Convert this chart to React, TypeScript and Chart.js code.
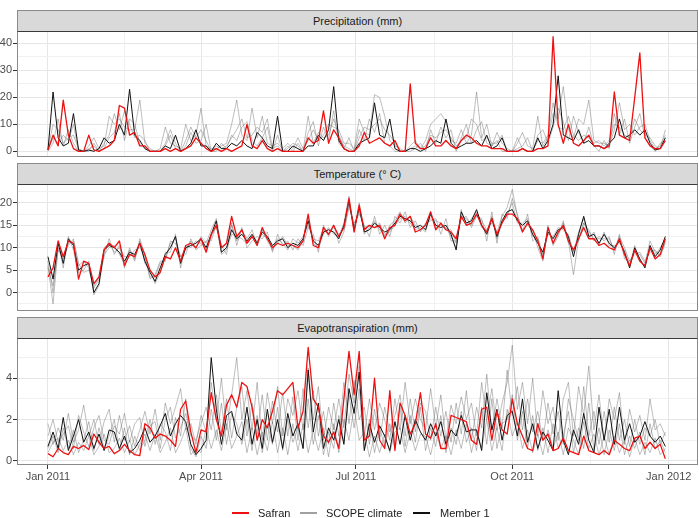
import React, { useEffect, useRef } from "react";
import { Chart, registerables } from "chart.js";

Chart.register(...registerables);

const WIDTH = 699;
const HEIGHT = 518;
const PLOT_LEFT = 17;
const PLOT_RIGHT = 698;
const X_AXIS_HEIGHT = 30;
const FONT = '"Liberation Sans", Arial, Helvetica, sans-serif';

// Daily series are sampled every third day, starting on 1 January 2011.
const STEP_DAYS = 3;

// Date axis, in days since 1 January 2011
const dayTicks = [0, 90, 181, 273, 365];
const dayTickLabels = ["Jan 2011", "Apr 2011", "Jul 2011", "Oct 2011", "Jan 2012"];
const dayMinorTicks = [45, 135.5, 227, 319];
const dayMin = -18.2;
const dayMax = 382.2;

const precipTicks = [0, 10, 20, 30, 40];
const precipMinorTicks = [5, 15, 25, 35];
const tempTicks = [0, 5, 10, 15, 20];
const tempMinorTicks = [-2.5, 2.5, 7.5, 12.5, 17.5, 22.5];
const etTicks = [0, 2, 4];
const etMinorTicks = [1, 3, 5];

const seriesNames = ["Safran", "SCOPE climate", "Member 1"];

// Precipitation (mm)
const precipSafran = [
  0.5, 6, 2, 19, 6, 1, 0, 0, 6, 0.5,
  0, 1, 2, 4, 17, 16, 6, 7, 2, 2,
  0, 0, 0, 1, 0, 1, 0, 1, 2, 5,
  3, 1, 0, 1, 0, 1, 0, 1, 2, 10,
  2, 1, 4, 1, 0, 1, 0, 0, 0, 0,
  0, 5, 3, 4, 15, 3, 8, 5, 1, 0,
  0, 2, 7, 3, 4, 5, 3, 2, 4, 0,
  0, 25, 3, 1, 1, 5, 2, 2, 4, 2,
  1, 4, 6, 5, 3, 2, 2, 1, 1, 1,
  0, 0, 0, 1, 0, 0, 1, 1, 2, 42.5,
  10, 3, 10, 3, 2, 4, 6, 2, 2, 1,
  2, 22, 6, 5, 4, 20, 36.5, 5, 2, 1,
  1, 4,
];
const precipMember1 = [
  0.5, 22, 5, 2, 3, 14, 0.5, 0, 0.5, 0,
  1, 5, 3, 4, 10, 6, 23, 6, 4, 1,
  0, 0, 0, 2, 1, 6, 0, 1, 3, 8,
  2, 2, 0, 3, 1, 1, 3, 2, 4, 2,
  1, 7, 5, 2, 1, 13, 0, 0, 2, 1,
  0, 2, 2, 6, 4, 8, 24, 4, 1, 0,
  0, 3, 4, 5, 18, 6, 5, 12, 1, 0,
  0, 1, 1, 0, 1, 2, 4, 3, 12, 3,
  1, 2, 3, 3, 4, 2, 6, 1, 2, 5,
  0, 0, 0, 1, 0, 0, 5, 1, 4, 10,
  28, 6, 5, 4, 8, 3, 4, 2, 2, 1,
  3, 5, 12, 5, 6, 8, 6, 8, 3, 0.5,
  1, 5,
];
const precipScopeA = [
  1, 10, 8, 3, 5, 6, 1, 0, 2, 5,
  1, 2, 13, 10, 12, 9, 8, 8, 19, 3,
  1, 0, 1, 9, 3, 2, 1, 10, 4, 6,
  16, 2, 1, 1, 2, 3, 10, 19, 6, 4,
  16, 5, 13, 3, 2, 3, 1, 3, 1, 5,
  1, 4, 8, 4, 6, 10, 9, 8, 3, 3,
  1, 12, 7, 6, 21, 20, 13, 4, 2, 1,
  0, 2, 4, 1, 4, 10, 12, 14, 11, 4,
  3, 8, 3, 6, 22, 5, 10, 2, 7, 3,
  1, 0, 3, 7, 2, 1, 13, 2, 5, 14,
  12, 24, 8, 5, 12, 10, 19, 4, 3, 3,
  2, 8, 18, 8, 10, 6, 9, 10, 4, 1,
  2, 6,
];
const precipScopeB = [
  0.5, 5, 3, 6, 4, 10, 0, 0, 1, 2,
  0, 3, 6, 14, 8, 15, 10, 5, 6, 4,
  0, 0, 0, 3, 8, 3, 0, 4, 9, 5,
  8, 4, 0, 2, 1, 2, 5, 8, 12, 5,
  6, 9, 7, 12, 1, 2, 0, 1, 3, 2,
  0, 13, 3, 7, 5, 6, 12, 6, 2, 1,
  0, 5, 9, 8, 10, 12, 8, 6, 3, 0,
  0, 1, 2, 1, 2, 6, 5, 7, 8, 5,
  2, 4, 5, 12, 10, 4, 5, 3, 3, 6,
  0, 0, 1, 2, 5, 0, 4, 3, 6, 18,
  9, 8, 13, 6, 4, 6, 5, 3, 4, 2,
  4, 10, 9, 6, 5, 12, 8, 6, 5, 2,
  1, 8,
];
const precipScopeC = [
  0, 3, 12, 2, 8, 3, 0, 0, 0, 3,
  0, 1, 5, 7, 14, 4, 12, 10, 3, 1,
  0, 0, 0, 2, 6, 1, 0, 2, 7, 3,
  4, 10, 0, 0, 3, 1, 6, 4, 9, 11,
  4, 2, 5, 9, 0, 6, 0, 2, 0, 3,
  0, 7, 11, 2, 9, 4, 15, 3, 1, 5,
  0, 8, 4, 12, 7, 14, 3, 2, 0, 0,
  0, 0, 1, 3, 0, 8, 3, 9, 5, 8,
  0, 5, 10, 3, 8, 11, 3, 2, 4, 0,
  0, 0, 5, 1, 0, 0, 6, 8, 3, 9,
  16, 11, 4, 13, 7, 3, 9, 2, 0, 4,
  1, 14, 6, 12, 3, 9, 14, 5, 2, 0,
  3, 4,
];

// Temperature (°C)
const tempSafran = [
  3.5, 5.5, 11.5, 8, 11.5, 11, 3, 7, 6.5, 2,
  3.5, 9.5, 11, 10, 11.5, 6, 8.5, 8, 11, 8.5,
  5, 3.5, 4.5, 8, 7.5, 10, 7, 10.5, 11, 10,
  12, 9, 13, 15, 10, 11, 17, 12.5, 14, 11,
  12.5, 10.5, 14.5, 12, 10, 11, 10.5, 11, 10.5, 10,
  11.5, 17.5, 10.5, 10, 14.5, 13, 15, 12.5, 14.5, 21,
  13.5, 19.5, 14, 15, 14.5, 15, 12, 14.5, 15, 17.5,
  16, 17, 13.5, 14, 15, 18, 14, 15.5, 14, 13.5,
  12, 17, 15, 15.5, 17.5, 15, 13.5, 16.5, 13, 15.5,
  17.5, 17.5, 16.5, 13.5, 15.5, 14, 11.5, 7.5, 14.5, 11,
  13.5, 15, 11.5, 9.5, 12, 14.5, 12, 12, 10.5, 11,
  10, 9.5, 12, 8.5, 6, 9.5, 7, 6, 10, 7.5,
  8.5, 12,
];
const tempMember1 = [
  8, 3, 11, 6.5, 12, 10.5, 5, 6, 6.5, 0,
  2, 9.5, 10.5, 10, 9, 7, 9, 8.5, 11, 7,
  4.5, 2.5, 5.5, 8.5, 10, 12.5, 6.5, 10, 10.5, 11,
  12, 10, 13, 16, 9, 10, 14, 12, 13, 11.5,
  13, 11, 13.5, 12.5, 10.5, 11.5, 12, 10, 11, 10.5,
  12, 16, 11.5, 10.5, 13.5, 14, 13.5, 12, 15, 20.5,
  14, 19, 13.5, 14, 15.5, 14.5, 13.5, 14, 15.5, 17,
  16.5, 16, 14.5, 15, 14, 17.5, 15, 14.5, 15, 13,
  9.5, 18, 15.5, 16, 18.5, 15, 13, 16.5, 12.5, 16,
  18, 18.5, 16, 15, 16, 13, 11, 9, 13.5, 12,
  14, 14.5, 12.5, 8, 13, 17, 12.5, 13, 11, 13,
  11, 10, 11.5, 9, 5.5, 10, 7.5, 5.5, 10.5, 8,
  9.5, 12.5,
];
const tempScopeA = [
  6, -2.5, 10, 8, 11, 11.5, 6, 7, 5.5, 1,
  3, 10, 11, 9, 10, 8, 8, 9.5, 10, 8,
  3.5, 3.5, 6.5, 7.5, 11, 12, 8, 9.5, 11.5, 10,
  12.5, 11, 14, 16.5, 10, 11, 15, 11.5, 14, 12,
  14, 10.5, 14, 11.5, 9.5, 12, 11, 9.5, 12, 11,
  12.5, 15, 12, 11.5, 14, 13, 14.5, 13, 14, 19.5,
  15, 18, 14.5, 15, 14.5, 15.5, 12.5, 15, 16, 18,
  15.5, 17, 15, 14, 15, 16.5, 16, 15.5, 14, 14,
  11, 17, 16.5, 15, 17.5, 16, 14, 15.5, 13.5, 17,
  19, 23, 17, 14, 15, 14, 10, 7, 14.5, 11,
  13, 15.5, 11.5, 4, 12, 15.5, 13.5, 12, 12, 12,
  12, 9.5, 12.5, 10, 7, 9, 8.5, 6.5, 11.5, 9,
  8.5, 11.5,
];
const tempScopeB = [
  7, 0, 11.5, 5.5, 12.5, 9.5, 4.5, 5, 7, -0.5,
  1.5, 8.5, 10, 10.5, 8.5, 6.5, 9.5, 7.5, 11.5, 6.5,
  5, 2, 4.5, 9, 9, 13, 5.5, 10.5, 10, 11.5,
  11, 9.5, 12.5, 15, 8.5, 9.5, 13, 12.5, 12, 11,
  12.5, 11.5, 13, 12, 10, 11, 12.5, 10.5, 10.5, 9.5,
  11.5, 17, 11, 10, 13, 14.5, 13, 12.5, 15.5, 21.5,
  13.5, 20, 13, 14.5, 16, 14, 13, 13.5, 15, 16.5,
  17, 15.5, 14, 14.5, 13.5, 18, 14.5, 15, 14.5, 12.5,
  10, 18.5, 15, 16.5, 18, 14.5, 13.5, 17, 12, 15.5,
  17.5, 20, 15.5, 15.5, 16.5, 12.5, 12, 8.5, 13, 12.5,
  14.5, 14, 13, 9, 13.5, 16.5, 12, 13.5, 10.5, 13.5,
  10.5, 10.5, 11, 9.5, 6, 10.5, 7, 6, 10, 8.5,
  10, 12,
];
const tempScopeC = [
  5.5, 1.5, 9.5, 7.5, 10.5, 12, 6.5, 4.5, 5, 1.5,
  3.5, 8, 12, 8.5, 10.5, 5.5, 10, 7, 12, 8.5,
  3, 4, 7, 7, 11.5, 11, 8, 8.5, 12, 9.5,
  10.5, 11.5, 11.5, 15, 10.5, 8.5, 15.5, 10.5, 14.5, 10,
  11.5, 12.5, 12, 13.5, 9, 13, 10.5, 11.5, 9.5, 12,
  10.5, 14.5, 13, 9, 15, 12.5, 15, 11, 13.5, 19,
  15.5, 17.5, 15, 12.5, 17, 13, 15, 12.5, 17, 15.5,
  18, 14.5, 16, 13.5, 15.5, 16, 16.5, 13, 16.5, 11.5,
  11.5, 16.5, 17, 14.5, 17, 16.5, 11.5, 18, 11, 17.5,
  16.5, 21, 17.5, 13.5, 17.5, 11.5, 12.5, 7.5, 15, 10.5,
  12.5, 16, 11, 9.5, 11.5, 15.5, 14, 11.5, 12.5, 11.5,
  12.5, 8.5, 13, 7.5, 7, 8.5, 9, 7, 9, 9.5,
  8, 11,
];

// Evapotranspiration (mm)
const etSafran = [
  0.35, 0.2, 0.6, 0.4, 0.3, 0.7, 0.6, 0.75, 0.55, 1.3,
  0.9, 0.6, 0.7, 0.35, 0.5, 0.8, 0.5, 0.3, 0.25, 1.8,
  1.6, 1.1, 1.3, 1.2, 1.0, 0.7, 2.5, 2.9, 1.4, 0.4,
  1.5, 1.4, 3.3, 2.0, 1.2, 2.7, 3.2, 2.6, 3.8, 3.6,
  2.6, 1.0, 2.0, 1.6, 2.4, 3.4, 3.2, 3.5, 3.8, 1.6,
  2.4, 5.5, 3.0, 2.6, 1.2, 0.9, 1.4, 0.6, 3.0, 5.3,
  3.2, 5.3, 1.0, 1.2, 4.0, 1.0, 0.6, 3.4, 0.5, 2.8,
  2.2, 1.3, 1.8, 3.3, 1.3, 1.1, 1.8, 0.6, 0.6, 2.2,
  2.1, 2.0, 1.9, 1.0, 0.8, 2.5, 2.6, 1.0, 2.4, 1.5,
  1.3, 3.0, 1.8, 1.2, 0.6, 0.5, 1.8, 1.0, 1.3, 0.5,
  0.6, 1.1, 0.5, 0.4, 0.3, 1.2, 0.5, 0.4, 0.3, 0.5,
  0.3, 1.0, 0.8, 0.6, 0.5, 1.1, 1.2, 0.6, 0.9, 0.6,
  0.8, 0.1,
];
const etMember1 = [
  0.7, 1.4, 0.6, 2.1, 0.5, 1.2, 2.0, 0.9, 1.4, 0.6,
  1.3, 0.5, 1.5, 1.4, 0.6, 1.2, 0.4, 0.6, 1.0, 1.6,
  0.9, 1.2, 1.7, 2.3, 1.2, 1.8, 2.2, 1.9, 0.8, 0.3,
  0.6, 1.0, 5.0, 2.5, 0.8, 2.2, 2.4, 1.3, 1.0, 2.6,
  0.8, 2.0, 0.6, 2.5, 0.9, 2.0, 0.6, 2.3, 1.2, 1.8,
  0.6, 4.4, 1.4, 2.8, 0.6, 1.6, 1.0, 2.0, 0.8, 3.5,
  2.3, 4.3, 0.5, 1.8, 0.9, 1.7, 1.2, 0.5, 1.9, 0.8,
  2.2, 1.0, 2.0, 1.4, 1.0, 1.8, 1.2, 1.9, 0.8, 1.5,
  1.2, 2.2, 1.4, 1.5, 1.5, 0.5, 3.3, 1.5, 2.5, 1.0,
  2.2, 2.4, 1.2, 3.0, 0.9, 1.8, 0.6, 1.4, 1.0, 0.5,
  3.4, 1.0, 0.3, 1.5, 0.8, 2.3, 1.0, 0.4, 2.6, 1.0,
  2.5, 0.8, 2.6, 1.0, 1.8, 0.9, 1.2, 1.9, 1.2, 0.9,
  1.2, 0.7,
];
const etScopeA = [
  1.8, 0.8, 1.6, 1.0, 2.3, 0.9, 1.5, 2.7, 1.2, 2.0,
  0.8, 1.9, 2.5, 0.9, 2.2, 1.0, 1.7, 0.7, 1.5, 2.4,
  1.3, 2.5, 1.0, 2.8, 1.8, 2.6, 3.5, 1.5, 1.8, 0.8,
  2.2, 1.4, 3.8, 2.0, 4.0, 1.5, 3.2, 5.0, 2.0, 3.4,
  1.5, 3.8, 1.0, 3.3, 1.8, 3.6, 1.2, 3.0, 2.2, 3.4,
  1.5, 4.5, 2.0, 3.6, 1.0, 2.6, 1.5, 3.0, 1.6, 4.2,
  2.8, 4.6, 1.2, 3.0, 1.5, 2.8, 2.0, 1.0, 3.0, 1.5,
  3.8, 1.8, 3.0, 2.0, 1.5, 3.5, 1.6, 3.2, 1.0, 2.7,
  1.8, 3.1, 2.0, 2.8, 1.2, 3.8, 2.0, 3.5, 1.5, 2.8,
  3.8, 5.6, 2.5, 3.8, 1.8, 4.0, 1.2, 3.4, 1.8, 2.6,
  1.0, 3.0, 3.8, 1.2, 3.6, 2.2, 4.6, 1.5, 3.2, 1.0,
  3.0, 2.0, 3.3, 0.8, 2.5, 1.4, 2.2, 1.0, 3.0, 1.5,
  1.8, 1.2,
];
const etScopeB = [
  0.6, 1.2, 0.4, 1.6, 0.6, 1.5, 0.4, 1.0, 1.9, 0.5,
  1.6, 0.6, 1.2, 2.0, 0.5, 1.6, 0.3, 1.2, 0.5, 1.0,
  2.0, 0.8, 1.8, 1.4, 0.5, 2.1, 1.2, 3.0, 0.6, 0.2,
  1.2, 0.6, 2.5, 1.0, 2.8, 0.8, 2.3, 1.8, 0.8, 2.0,
  0.5, 2.2, 0.4, 1.8, 0.8, 2.6, 0.5, 2.0, 0.9, 1.6,
  0.6, 3.0, 0.8, 2.2, 0.3, 1.4, 0.6, 2.2, 0.9, 3.2,
  1.6, 3.5, 0.5, 2.0, 0.4, 1.6, 0.7, 1.8, 0.6, 2.6,
  0.7, 2.2, 0.9, 2.6, 0.5, 1.6, 0.7, 2.2, 0.4, 1.6,
  0.8, 2.4, 0.9, 1.6, 0.5, 2.6, 0.8, 3.0, 0.6, 1.8,
  2.0, 3.2, 1.0, 2.4, 0.6, 2.2, 0.5, 1.6, 0.4, 1.8,
  0.6, 1.2, 2.4, 0.4, 1.6, 0.6, 2.8, 0.5, 1.6, 0.3,
  1.5, 0.5, 1.8, 0.3, 1.2, 0.6, 1.4, 0.3, 1.8, 0.6,
  1.0, 0.4,
];
const etScopeC = [
  1.2, 2.0, 0.9, 1.3, 1.7, 0.6, 2.2, 1.4, 0.7, 1.6,
  2.2, 1.0, 0.8, 1.7, 1.3, 2.3, 0.9, 1.8, 2.1, 0.7,
  1.7, 1.9, 0.6, 2.0, 2.6, 1.1, 1.6, 2.3, 1.2, 1.0,
  1.8, 2.6, 1.5, 3.2, 1.4, 3.0, 1.1, 2.6, 3.6, 1.2,
  2.8, 1.3, 3.2, 1.0, 2.9, 1.4, 3.3, 1.2, 3.1, 1.0,
  3.5, 1.6, 3.4, 1.2, 2.4, 0.8, 2.8, 1.2, 3.8, 1.8,
  3.9, 2.0, 2.6, 0.8, 2.5, 1.0, 2.6, 1.4, 2.2, 3.2,
  1.2, 3.0, 1.4, 2.8, 2.4, 1.0, 2.6, 1.2, 2.4, 0.9,
  2.8, 1.3, 3.4, 1.0, 2.6, 1.6, 4.2, 1.4, 3.0, 1.6,
  4.4, 2.2, 3.6, 1.5, 3.0, 1.4, 2.4, 1.0, 2.8, 1.3,
  2.4, 0.8, 3.0, 2.0, 1.0, 3.6, 1.2, 2.4, 0.8, 2.4,
  0.9, 2.6, 1.0, 2.0, 0.7, 2.0, 0.8, 1.6, 1.2, 2.0,
  0.8, 1.4,
];
const etScopeD = [
  0.4, 0.9, 1.1, 0.5, 1.0, 0.3, 0.9, 0.5, 1.2, 0.3,
  0.7, 1.3, 0.4, 0.6, 1.1, 0.4, 1.0, 0.3, 0.8, 1.3,
  0.5, 1.3, 0.4, 0.9, 1.6, 0.4, 0.9, 1.6, 0.3, 0.6,
  0.4, 1.6, 0.6, 1.5, 0.5, 1.8, 0.6, 1.2, 1.9, 0.4,
  1.6, 0.3, 1.4, 0.5, 1.9, 0.4, 1.6, 0.3, 1.8, 0.5,
  1.8, 0.4, 1.5, 0.5, 1.6, 0.2, 1.8, 0.4, 2.0, 1.0,
  2.6, 1.0, 1.4, 0.2, 1.2, 0.4, 1.3, 0.4, 1.4, 1.6,
  0.4, 1.4, 0.5, 1.3, 1.2, 0.3, 1.4, 0.6, 1.2, 0.3,
  1.5, 0.6, 1.8, 0.4, 1.5, 0.6, 2.0, 0.5, 1.6, 0.5,
  2.5, 1.2, 1.9, 0.6, 1.5, 0.4, 1.3, 0.3, 1.5, 0.6,
  1.4, 0.3, 1.6, 1.0, 0.3, 1.9, 0.6, 1.3, 0.3, 1.2,
  0.3, 1.2, 0.4, 1.0, 0.2, 1.1, 0.3, 0.9, 0.4, 1.1,
  0.3, 0.6,
];

const SERIES_COLORS = {
  safran: "#ee1111",
  scope: "rgba(95,95,95,0.45)",
  scopeKey: "#a0a0a0",
  member: "#111111",
};

type Panel = {
  title: string;
  safran: number[];
  member: number[];
  scope: number[][];
  min: number;
  max: number;
  ticks: number[];
  minor: number[];
  stripTop: number;
  plotTop: number;
  plotBottom: number;
  showDates: boolean;
};

const panels: Panel[] = [
  {
    title: "Precipitation (mm)",
    safran: precipSafran,
    member: precipMember1,
    scope: [precipScopeA, precipScopeB, precipScopeC],
    min: -2.1,
    max: 44.6,
    ticks: precipTicks,
    minor: precipMinorTicks,
    stripTop: 10,
    plotTop: 31,
    plotBottom: 157,
    showDates: false,
  },
  {
    title: "Temperature (° C)",
    safran: tempSafran,
    member: tempMember1,
    scope: [tempScopeA, tempScopeB, tempScopeC],
    min: -4.1,
    max: 24.2,
    ticks: tempTicks,
    minor: tempMinorTicks,
    stripTop: 163,
    plotTop: 184,
    plotBottom: 311,
    showDates: false,
  },
  {
    title: "Evapotranspiration (mm)",
    safran: etSafran,
    member: etMember1,
    scope: [etScopeA, etScopeB, etScopeC, etScopeD],
    min: -0.2,
    max: 5.95,
    ticks: etTicks,
    minor: etMinorTicks,
    stripTop: 317,
    plotTop: 338,
    plotBottom: 465,
    showDates: true,
  },
];

const toPoints = (values: number[]) => values.map((v, i) => ({ x: i * STEP_DAYS, y: v }));

const panelFrame = {
  id: "panelFrame",
  afterDatasetsDraw(chart: any) {
    const { ctx, chartArea: a } = chart;
    ctx.save();
    ctx.strokeStyle = "#8a8a8a";
    ctx.lineWidth = 1;
    ctx.strokeRect(a.left + 0.5, a.top + 0.5, a.right - a.left - 1, a.bottom - a.top - 1);
    ctx.restore();
  },
};

function lineSet(label: string, values: number[], color: string, width: number) {
  return {
    label,
    data: toPoints(values),
    borderColor: color,
    backgroundColor: color,
    borderWidth: width,
    borderJoinStyle: "round" as const,
    pointRadius: 0,
    pointHoverRadius: 0,
    tension: 0,
    fill: false,
  };
}

function buildConfig(panel: Panel): any {
  // The first dataset is painted last, so Safran sits on top.
  const datasets = [
    lineSet(seriesNames[0], panel.safran, SERIES_COLORS.safran, 1.3),
    lineSet(seriesNames[2], panel.member, SERIES_COLORS.member, 1),
    ...panel.scope.map((s) => lineSet(seriesNames[1], s, SERIES_COLORS.scope, 0.9)),
  ];
  const xHeight = panel.showDates ? X_AXIS_HEIGHT : 0;
  const allX = [...dayTicks, ...dayMinorTicks].sort((a, b) => a - b);
  const allY = [...panel.ticks, ...panel.minor].sort((a, b) => a - b);
  return {
    type: "line",
    data: { datasets },
    plugins: [panelFrame],
    options: {
      animation: false,
      responsive: false,
      events: [],
      layout: {
        padding: {
          left: 0,
          right: WIDTH - PLOT_RIGHT,
          top: panel.plotTop,
          bottom: HEIGHT - panel.plotBottom - xHeight,
        },
      },
      plugins: {
        legend: { display: false },
        tooltip: { enabled: false },
        title: { display: false },
      },
      scales: {
        x: {
          type: "linear",
          min: dayMin,
          max: dayMax,
          bounds: "data",
          afterBuildTicks: (s: any) => {
            s.ticks = allX.map((v) => ({ value: v }));
          },
          afterFit: (s: any) => {
            s.height = xHeight;
          },
          border: { display: false },
          grid: {
            drawTicks: panel.showDates,
            tickLength: 4,
            tickWidth: 1,
            lineWidth: 1,
            color: (c: any) => (dayTicks.includes(c.tick?.value) ? "#e6e6e6" : "#f1f1f1"),
            tickColor: (c: any) => (dayTicks.includes(c.tick?.value) ? "#333333" : "rgba(0,0,0,0)"),
          },
          ticks: {
            display: panel.showDates,
            autoSkip: false,
            maxRotation: 0,
            minRotation: 0,
            padding: 1,
            color: "#4d4d4d",
            font: { family: FONT, size: 11 },
            callback: (v: number) => {
              const k = dayTicks.indexOf(v);
              return k >= 0 ? dayTickLabels[k] : "";
            },
          },
        },
        y: {
          type: "linear",
          min: panel.min,
          max: panel.max,
          bounds: "data",
          afterBuildTicks: (s: any) => {
            s.ticks = allY.map((v) => ({ value: v }));
          },
          afterFit: (s: any) => {
            s.width = PLOT_LEFT;
          },
          border: { display: false },
          grid: {
            drawTicks: true,
            tickLength: 4,
            tickWidth: 1,
            lineWidth: 1,
            color: (c: any) => (panel.ticks.includes(c.tick?.value) ? "#e6e6e6" : "#f1f1f1"),
            tickColor: (c: any) => (panel.ticks.includes(c.tick?.value) ? "#333333" : "rgba(0,0,0,0)"),
          },
          ticks: {
            autoSkip: false,
            padding: 1,
            color: "#4d4d4d",
            font: { family: FONT, size: 11 },
            callback: (v: number) => (panel.ticks.includes(v) ? String(v) : ""),
          },
        },
      },
    },
  };
}

function PanelChart({ panel }: { panel: Panel }) {
  const ref = useRef<HTMLCanvasElement | null>(null);
  useEffect(() => {
    if (!ref.current) return;
    const chart = new Chart(ref.current, buildConfig(panel));
    return () => chart.destroy();
  }, [panel]);
  return (
    <canvas
      ref={ref}
      width={WIDTH}
      height={HEIGHT}
      style={{ position: "absolute", left: 0, top: 0, width: WIDTH, height: HEIGHT }}
    />
  );
}

function Strip({ panel }: { panel: Panel }) {
  return (
    <div
      style={{
        position: "absolute",
        left: PLOT_LEFT,
        top: panel.stripTop,
        width: PLOT_RIGHT - PLOT_LEFT,
        height: panel.plotTop - panel.stripTop + 1,
        boxSizing: "border-box",
        background: "#d9d9d9",
        borderTop: "1px solid #8a8a8a",
        borderLeft: "1px solid #8a8a8a",
        borderRight: "1px solid #8a8a8a",
        borderBottom: "1px solid #3a3a3a",
        color: "#1a1a1a",
        fontFamily: FONT,
        fontSize: 11,
        display: "flex",
        alignItems: "center",
        justifyContent: "center",
      }}
    >
      {panel.title}
    </div>
  );
}

const legendItems = [
  { name: seriesNames[0], color: SERIES_COLORS.safran, key: 232, text: 258 },
  { name: seriesNames[1], color: SERIES_COLORS.scopeKey, key: 300, text: 326 },
  { name: seriesNames[2], color: SERIES_COLORS.member, key: 413, text: 440 },
];

export default function App() {
  return (
    <div
      style={{
        position: "absolute",
        left: 0,
        top: 0,
        width: WIDTH,
        height: HEIGHT,
        background: "#ffffff",
        overflow: "hidden",
      }}
    >
      {panels.map((p) => (
        <PanelChart key={p.title} panel={p} />
      ))}
      {panels.map((p) => (
        <Strip key={p.title} panel={p} />
      ))}
      {legendItems.map((it) => (
        <React.Fragment key={it.name}>
          <div
            style={{
              position: "absolute",
              left: it.key,
              top: 512,
              width: 17,
              height: 1.6,
              background: it.color,
            }}
          />
          <span
            style={{
              position: "absolute",
              left: it.text,
              top: 506,
              lineHeight: "14px",
              fontFamily: FONT,
              fontSize: 11,
              color: "#1a1a1a",
              whiteSpace: "nowrap",
            }}
          >
            {it.name}
          </span>
        </React.Fragment>
      ))}
    </div>
  );
}
